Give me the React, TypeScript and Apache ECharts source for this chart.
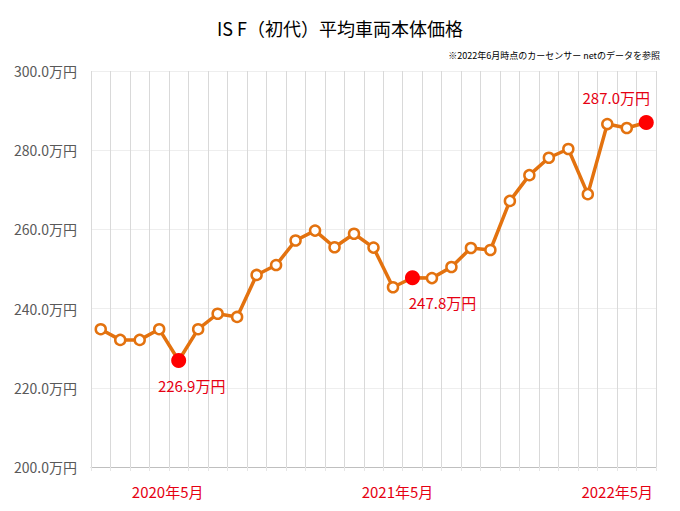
import React, { useEffect, useRef } from "react";
import * as echarts from "echarts";

const months = [
  "2020年1月", "2020年2月", "2020年3月", "2020年4月", "2020年5月", "2020年6月",
  "2020年7月", "2020年8月", "2020年9月", "2020年10月", "2020年11月", "2020年12月",
  "2021年1月", "2021年2月", "2021年3月", "2021年4月", "2021年5月", "2021年6月",
  "2021年7月", "2021年8月", "2021年9月", "2021年10月", "2021年11月", "2021年12月",
  "2022年1月", "2022年2月", "2022年3月", "2022年4月", "2022年5月",
];
const prices = [
  234.8, 232.1, 232.1, 234.8, 226.9, 234.8, 238.7, 237.9, 248.5, 251.0, 257.2, 259.7,
  255.5, 258.9, 255.4, 245.4, 247.8, 247.7, 250.5, 255.3, 254.8, 267.2, 273.7, 278.1,
  280.3, 268.9, 286.6, 285.6, 287.0,
];
const shownMonths = ["2020年5月", "2021年5月", "2022年5月"];
const highlighted = [
  { month: "2020年5月", side: "bottom", dx: 13 },
  { month: "2021年5月", side: "bottom", dx: 30 },
  { month: "2022年5月", side: "top", dx: -30 },
];
const titleText = "IS F（初代）平均車両本体価格";
const noteText = "※2022年6月時点のカーセンサー netのデータを参照";

const FONT = "'Noto Sans CJK JP', 'Noto Sans', sans-serif";
const RED = "#ff0000";
const LABEL_RED = "#e60012";
const ORANGE = "#e3720f";

export default function App() {
  const ref = useRef<HTMLDivElement>(null);
  useEffect(() => {
    document.body.style.margin = "0";
    if (!ref.current) return;
    const chart = echarts.init(ref.current, null, { renderer: "svg" });
    const data = prices.map((v, i) => {
      const h = highlighted.find((x) => x.month === months[i]);
      if (!h) return v;
      return {
        value: v,
        symbolSize: 15,
        itemStyle: { color: RED, borderColor: RED, borderWidth: 0 },
        label: {
          show: true,
          position: h.side,
          distance: 10,
          offset: [h.dx, 0],
          color: LABEL_RED,
          fontSize: 15,
          fontFamily: FONT,
          formatter: (p: any) => `${Number(p.value).toFixed(1)}万円`,
        },
      };
    });
    chart.setOption({
      animation: false,
      backgroundColor: "#ffffff",
      textStyle: { fontFamily: FONT },
      title: {
        text: titleText,
        left: "center",
        top: 14,
        textStyle: { fontSize: 18, fontWeight: "normal", color: "#000", fontFamily: FONT },
      },
      graphic: [
        {
          type: "text",
          right: 20,
          top: 51,
          style: { text: noteText, fontSize: 9, fill: "#000", fontFamily: FONT },
        },
      ],
      grid: { left: 91, right: 24, top: 71, bottom: 44 },
      xAxis: {
        type: "category",
        data: months,
        boundaryGap: true,
        axisLine: { show: true, lineStyle: { color: "#bfbfbf", width: 1 } },
        axisTick: { show: true, length: 4, lineStyle: { color: "#e6e6e6" } },
        splitLine: { show: true, interval: 0, lineStyle: { color: "#d9d9d9", width: 1 } },
        axisLabel: {
          interval: 0,
          margin: 17,
          color: LABEL_RED,
          fontSize: 15,
          fontFamily: FONT,
          formatter: (v: string) => {
            const k = shownMonths.indexOf(v);
            if (k < 0) return "";
            return `{l${k}|${v}}`;
          },
          rich: {
            l0: { color: LABEL_RED, fontSize: 15, fontFamily: FONT, padding: [0, 22, 0, 0] },
            l1: { color: LABEL_RED, fontSize: 15, fontFamily: FONT, padding: [0, 30, 0, 0] },
            l2: { color: LABEL_RED, fontSize: 15, fontFamily: FONT, padding: [0, 58, 0, 0] },
          },
        },
      },
      yAxis: {
        type: "value",
        min: 200,
        max: 300,
        interval: 20,
        axisLine: { show: false },
        axisTick: { show: false },
        splitLine: { show: true, lineStyle: { color: "#eeeeee", width: 1 } },
        axisLabel: {
          margin: 14,
          color: "#595959",
          fontSize: 14,
          fontFamily: FONT,
          formatter: (v: number) => `${v.toFixed(1)}万円`,
        },
      },
      series: [
        {
          type: "line",
          data,
          symbol: "circle",
          symbolSize: 10,
          showAllSymbol: true,
          lineStyle: { color: ORANGE, width: 3.5 },
          itemStyle: { color: "#ffffff", borderColor: ORANGE, borderWidth: 2.5 },
          emphasis: { disabled: true },
          z: 3,
        },
      ],
    });
    return () => chart.dispose();
  }, []);
  return <div ref={ref} style={{ width: 680, height: 511 }} />;
}
